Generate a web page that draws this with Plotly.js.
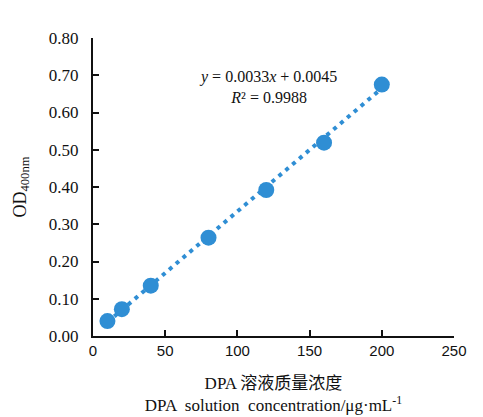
<!DOCTYPE html>
<html><head><meta charset="utf-8">
<script src="https://cdn.plot.ly/plotly-3.0.1.min.js"></script>
<style>body{margin:0;background:#fff}</style>
</head><body><div id="chart" style="width:483px;height:417px"></div>
<script>
var concentrations = [10, 20, 40, 80, 120, 160, 200];
var odValues = [0.040, 0.072, 0.135, 0.264, 0.392, 0.519, 0.675];
var trendX = [10, 200];
var trendY = [0.037, 0.665];
var yTickVals = [0, 0.1, 0.2, 0.3, 0.4, 0.5, 0.6, 0.7, 0.8];
var yTickText = ["0.00","0.10","0.20","0.30","0.40","0.50","0.60","0.70","0.80"];
var xTickVals = [0, 50, 100, 150, 200, 250];

var blue = "#2F8ED4";
var traces = [
  {x: trendX, y: trendY, mode: "lines", line: {color: blue, width: 4, dash: "4px,5px"}, hoverinfo: "skip", showlegend: false},
  {x: concentrations, y: odValues, mode: "markers", marker: {color: blue, size: 16}, showlegend: false}
];
var layout = {
  width: 483, height: 417,
  margin: {l: 93, r: 29, t: 38, b: 81},
  paper_bgcolor: "#fff", plot_bgcolor: "#fff",
  xaxis: {
    range: [0, 250], tickvals: xTickVals, ticks: "inside", ticklen: 6, tickwidth: 2, tickcolor: "#111",
    showline: true, linecolor: "#111", linewidth: 2, showgrid: false, zeroline: false,
    tickfont: {family: "Liberation Sans, Arial", size: 15, color: "#111"},
    title: {text: "DPA 溶液质量浓度<br>DPA  solution  concentration/μg·mL<sup>-1</sup>", font: {family: "Liberation Serif, Noto Sans CJK SC", size: 17, color: "#111"}, standoff: 19}
  },
  yaxis: {
    range: [0, 0.8], tickvals: yTickVals, ticktext: yTickText, ticks: "inside", ticklen: 6, tickwidth: 2, tickcolor: "#111",
    showline: true, linecolor: "#111", linewidth: 2, showgrid: false, zeroline: false,
    ticklabelstandoff: 9,
    tickfont: {family: "Liberation Serif, Times New Roman", size: 17, color: "#111"},
    title: {text: "OD<sub>400nm</sub>", font: {family: "Liberation Serif, Times New Roman", size: 18, color: "#111"}, standoff: 18}
  },
  annotations: [
    {xref: "paper", yref: "paper", x: 0.485, y: 0.835, xanchor: "center", yanchor: "middle", showarrow: false, align: "center",
     text: "<i>y</i> = 0.0033<i>x</i> + 0.0045<br><i>R</i>² = 0.9988",
     font: {family: "Liberation Serif, Times New Roman", size: 16, color: "#111"}}
  ]
};
Plotly.newPlot("chart", traces, layout, {displayModeBar: false, staticPlot: true});
</script></body></html>
